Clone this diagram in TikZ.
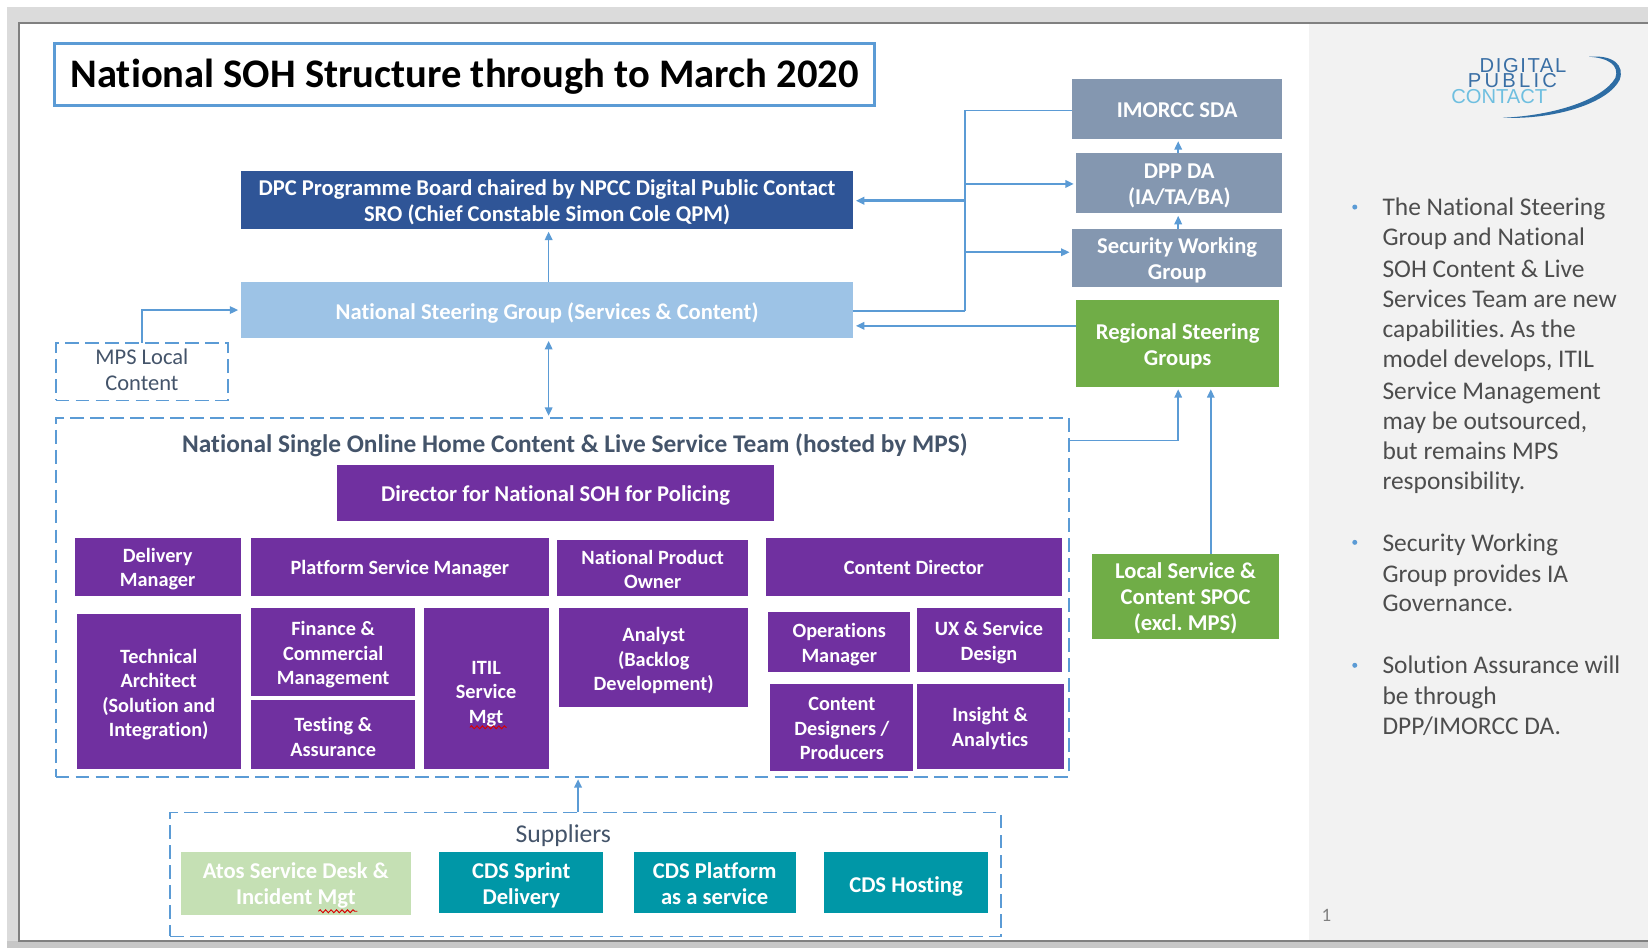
\documentclass[tikz,border=0pt]{standalone}
\usepackage{fontspec}
\setmainfont{Carlito}[Ligatures=NoCommon]
\newfontfamily\logofont[LetterSpace=8]{Liberation Sans}
\newfontfamily\logofontp[LetterSpace=16]{Liberation Sans}
\newfontfamily\logofontb{Liberation Sans}
\usetikzlibrary{arrows.meta,decorations.pathmorphing}
\frenchspacing
\definecolor{lnblue}{HTML}{5B9BD5}
\definecolor{dpcblue}{HTML}{2F5597}
\definecolor{nsgblue}{HTML}{9DC3E6}
\definecolor{slate}{HTML}{8497B0}
\definecolor{grn}{HTML}{70AD47}
\definecolor{lgrn}{HTML}{C5E0B4}
\definecolor{purp}{HTML}{7030A0}
\definecolor{teal1}{HTML}{0097A7}
\definecolor{dk}{HTML}{44546A}
\definecolor{panel}{HTML}{F2F2F2}
\definecolor{sidetxt}{HTML}{4D4D4D}
\definecolor{logoblue}{HTML}{3A6FA5}
\definecolor{logolight}{HTML}{6FBFE0}
\definecolor{swoosh}{HTML}{2E6DA4}
\def\tsh{0}
\tikzset{
  x=0.5pt,y=-0.5pt,
  tdown/.code={\def\tsh{#1}},
  boxbase/.style={inner sep=0pt,outer sep=0pt,align=center,text=white,font=\bfseries\fontsize{9.65}{11.6}\selectfont},
  bigtext/.style={font=\bfseries\fontsize{10.75}{12.3}\selectfont},
  dpcbox/.style={boxbase,fill=dpcblue,bigtext,tdown=0.25},
  nsgbox/.style={boxbase,fill=nsgblue,bigtext,tdown=1},
  slatebox/.style={boxbase,fill=slate,bigtext,tdown=0.5},
  grnbox/.style={boxbase,fill=grn,bigtext,tdown=0.5},
  purpbox/.style={boxbase,fill=purp},
  dirbox/.style={boxbase,fill=purp,bigtext,tdown=0.5},
  tealbox/.style={boxbase,fill=teal1,bigtext,tdown=0.5},
  atosbox/.style={boxbase,fill=lgrn,bigtext},
  dashbox/.style={boxbase,draw=lnblue,line width=0.9pt,dash pattern=on 6.5pt off 3pt,text=dk,font=\fontsize{10.7}{12.5}\selectfont},
  titlebox/.style={boxbase,draw=lnblue,line width=1.5pt,fill=white,text=black,font=\bfseries\fontsize{19.3}{22}\selectfont},
  conn/.style={draw=lnblue,line width=0.75pt,shorten >=1.2pt,-{Triangle[length=4pt,width=3.6pt]}},
  connboth/.style={conn,shorten <=1.2pt,{Triangle[length=4pt,width=3.6pt]}-{Triangle[length=4pt,width=3.6pt]}},
  plainconn/.style={draw=lnblue,line width=0.75pt},
  sidetext/.style={inner sep=0pt,anchor=base west,text=sidetxt,font=\fontsize{12.1}{14}\selectfont},
  bullet/.style={circle,fill=lnblue,inner sep=0pt,minimum size=2.4pt},
  squig/.style={draw=red!85!black,line width=0.45pt,decorate,decoration={snake,amplitude=0.7pt,segment length=2.6pt}},
}
\newcommand{\bx}[7][]{%
  \pgfmathsetmacro{\cxx}{(#3+#5)/2}\pgfmathsetmacro{\cyy}{(#4+#6)/2}%
  \pgfmathsetmacro{\wdd}{(#5-#3)*0.5}\pgfmathsetmacro{\htt}{(#6-#4)*0.5}%
  \node[#1,minimum width=\wdd pt,minimum height=\htt pt] (#2) at (\cxx,\cyy) {\rule{0pt}{\dimexpr 10pt+2\dimexpr\tsh pt\relax\relax}#7\rule[-3pt]{0pt}{0pt}};}
\begin{document}
\begin{tikzpicture}
\useasboundingbox (0,0) rectangle (1568,902);
% slide surround
\fill[white] (0,0) rectangle (1568,902);
\fill[black!14] (7,7) rectangle (1568,902);
\fill[black!22] (7,895) rectangle (1568,902);
\fill[white] (18,22) rectangle (1245,895);
\fill[panel] (1245,22) rectangle (1568,895);
\draw[black!50,line width=0.8pt] (1568,22) -- (18,22) -- (18,895) -- (1568,895);
% title
\bx[titlebox,tdown=3.2]{title}{52}{41}{832}{100}{National SOH Structure through to March 2020}
% upper boxes
\bx[dpcbox]{dpc}{229}{163}{812}{218}{DPC Programme Board chaired by NPCC Digital Public Contact\\SRO (Chief Constable Simon Cole QPM)}
\bx[nsgbox]{nsg}{229}{268}{812}{322}{National Steering Group (Services \& Content)}
\bx[dashbox]{mps}{53}{326}{217}{381}{MPS Local\\Content\rule[-4pt]{0pt}{0pt}}
\bx[slatebox]{imorcc}{1020}{75}{1220}{132}{IMORCC SDA}
\bx[slatebox]{dpp}{1024}{146}{1220}{203}{DPP DA\\(IA/TA/BA)}
\bx[slatebox]{sec}{1020}{218}{1220}{273}{Security Working\\Group}
\bx[grnbox,tdown=1]{reg}{1024}{285}{1217}{368}{Regional Steering\\Groups}
\bx[grnbox,tdown=0.25]{local}{1039}{527}{1217}{608}{Local Service \&\\Content SPOC\\(excl. MPS)}
% team
\bx[dashbox]{team}{53}{398}{1017}{739}{}
\node[inner sep=0pt,text=dk,font=\bfseries\fontsize{12.08}{14}\selectfont] (teamlabel) at (547,424) {National Single Online Home Content \& Live Service Team (hosted by MPS)};
\bx[dirbox]{dir}{321}{442}{736}{496}{Director for National SOH for Policing}
\bx[purpbox]{deliv}{71}{512}{229}{567}{Delivery\\Manager}
\bx[purpbox]{plat}{239}{512}{522}{567}{Platform Service Manager}
\bx[purpbox,tdown=0.5]{npo}{530}{514}{712}{567}{National Product\\Owner}
\bx[purpbox]{cdir}{729}{512}{1010}{567}{Content Director}
\bx[purpbox,tdown=0.5]{tech}{73}{584}{229}{732}{Technical\\Architect\\(Solution and\\Integration)}
\bx[purpbox,tdown=0.5]{fin}{239}{578}{395}{662}{Finance \&\\Commercial\\Management}
\bx[purpbox,tdown=1]{test}{239}{666}{395}{732}{Testing \&\\Assurance}
\bx[purpbox,tdown=1.5]{itil}{403}{578}{522}{732}{ITIL\\Service\\Mgt}
\bx[purpbox,tdown=0.75]{analyst}{532}{578}{712}{673}{Analyst\\(Backlog\\Development)}
\bx[purpbox,tdown=0.5]{ops}{731}{582}{866}{639}{Operations\\Manager}
\bx[purpbox,tdown=0.5]{ux}{872}{578}{1010}{639}{UX \& Service\\Design}
\bx[purpbox]{cdes}{733}{651}{869}{734}{Content\\Designers /\\Producers}
\bx[purpbox]{ins}{872}{651}{1012}{732}{Insight \&\\Analytics}
% suppliers
\bx[dashbox]{sup}{162}{773}{952}{891}{}
\node[inner sep=0pt,text=dk,font=\fontsize{12.2}{14}\selectfont] (suplabel) at (536,795) {Suppliers};
\bx[atosbox]{atos}{172}{811}{391}{871}{Atos Service Desk \&\\Incident Mgt}
\bx[tealbox]{sprint}{418}{811}{574}{869}{CDS Sprint\\Delivery}
\bx[tealbox]{cplat}{603}{811}{757}{869}{CDS Platform\\as a service}
\bx[tealbox,tdown=1]{chost}{784}{811}{940}{869}{CDS Hosting}
\draw[squig] (447,692) -- (482,692);
\draw[squig] (303,867) -- (340,867);
% connectors
\draw[conn] (nsg.north -| 522,0) -- (dpc.south -| 522,0);
\draw[connboth] (nsg.south -| 522,0) -- (team.north -| 522,0);
\draw[conn] (mps.north) -- (135,295) -- (nsg.west |- 0,295);
\draw[plainconn,line width=1.2pt] (nsg.east |- 0,296) -- (918,296);
\draw[plainconn] (918,296) -- (918,105) -- (imorcc.west |- 0,105);
\draw[conn,line width=1.2pt] (918,191) -- (dpc.east |- 0,191);
\draw[conn] (918,175) -- (dpp.west |- 0,175);
\draw[conn] (918,240) -- (sec.west |- 0,240);
\draw[conn] (reg.west |- 0,310) -- (nsg.east |- 0,310);
\draw[conn] (team.east |- 0,419) -- (1121,419) -- (reg.south -| 1121,0);
\draw[conn] (local.north -| 1152,0) -- (reg.south -| 1152,0);
\draw[conn] (dpp.north -| 1121,0) -- (imorcc.south -| 1121,0);
\draw[conn] (sec.north -| 1121,0) -- (dpp.south -| 1121,0);
\draw[conn] (sup.north -| 550,0) -- (team.south -| 550,0);
% logo
\node[inner sep=0pt,text=logoblue,font=\logofont\fontsize{9.6}{10}\selectfont] (logoa) at (1449,62) {DIGITAL};
\node[inner sep=0pt,text=logoblue,font=\logofontp\fontsize{9.6}{10}\selectfont] (logob) at (1439,77) {PUBLIC};
\node[inner sep=0pt,text=logolight,font=\logofontb\fontsize{9.6}{10}\selectfont] (logoc) at (1426.5,92) {CONTACT};
\fill[swoosh] (1512,54) .. controls (1535,52) and (1546,62) .. (1541,76) .. controls (1530,98) and (1480,114) .. (1430,112) .. controls (1478,110) and (1525,95) .. (1537,74) .. controls (1541,62) and (1530,55) .. (1512,54);
% side text
\node[bullet] (b1) at (1289,197) {};
\node[bullet] (b2) at (1289,516) {};
\node[bullet] (b3) at (1289,633) {};
\foreach \yy/\tt in {205/The National Steering,234/Group and National,264/SOH Content \& Live,293/Services Team are new,321/capabilities. As the,350/{model develops, ITIL},380/Service Management,409/{may be outsourced,},437/but remains MPS,466/responsibility.,525/Security Working,554/Group provides IA,582/Governance.,641/Solution Assurance will,670/be through,699/{DPP/IMORCC DA.}}
  \node[sidetext] at (1315,\yy) {\tt};
\node[inner sep=0pt,text=black!50,font=\fontsize{9}{10}\selectfont] (pagenum) at (1262,871) {1};
\end{tikzpicture}
\end{document}
